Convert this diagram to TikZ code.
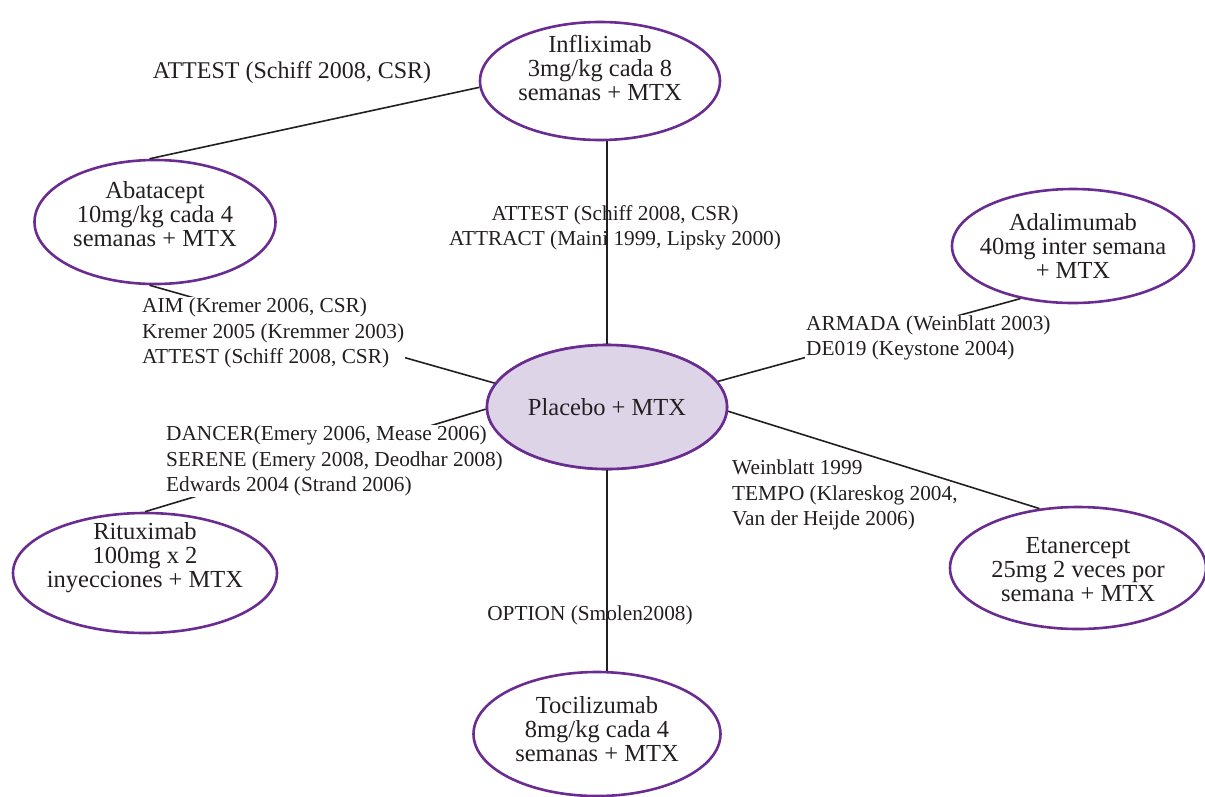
\documentclass[tikz,border=0pt]{standalone}
\usepackage{fontspec}
\setmainfont{Liberation Serif}
\usetikzlibrary{shapes.geometric}
\definecolor{ringc}{HTML}{6A2C91}
\definecolor{fillc}{HTML}{DDD4E8}
\definecolor{txtc}{HTML}{231F20}
\tikzset{
  drug/.style={ellipse, draw=ringc, line width=2.6pt, inner sep=0pt},
  drugtxt/.style={align=center, text=txtc, inner sep=0pt, font=\fontsize{24.5}{24}\selectfont},
  edge/.style={draw=txtc, line width=1.6pt},
  lab/.style={align=left, text=txtc, font=\fontsize{21.3}{25.3}\selectfont, inner sep=1pt},
  labw/.style={lab, fill=white},
  labc/.style={lab, align=center}
}
\begin{document}
\begin{tikzpicture}[x=1pt,y=-1pt]
\useasboundingbox (0,0) rectangle (1205,796);
% nodes
\node[drug, minimum width=240pt, minimum height=118pt] (inf) at (600,81) {};
\node[drug, minimum width=241pt, minimum height=124pt] (aba) at (155,222) {};
\node[drug, minimum width=242pt, minimum height=114pt] (ada) at (1073,246) {};
\node[drug, fill=fillc, minimum width=240pt, minimum height=124pt] (pla) at (607,407) {};
\node[drug, minimum width=264pt, minimum height=120pt] (rit) at (145,573) {};
\node[drug, minimum width=256pt, minimum height=122pt] (eta) at (1078,568) {};
\node[drug, minimum width=247pt, minimum height=124pt] (toc) at (597,734) {};
% diagonal edges (behind labels)
\draw[edge] (aba.95) -- (inf.183);
\draw[edge] (aba.265) -- (pla.168);
\draw[edge] (ada.225) -- (pla.13);
\draw[edge] (rit.90) -- (pla.181);
\draw[edge] (pla.-2) -- (eta.123);
% labels
\node[lab, font=\fontsize{24}{26}\selectfont] (l1) at (292,73) {ATTEST (Schiff 2008, CSR)};
\node[labc] (l2) at (615,228) {ATTEST (Schiff 2008, CSR)\\ATTRACT (Maini 1999, Lipsky 2000)};
\node[labw, anchor=west] (l3) at (141,333) {AIM (Kremer 2006, CSR)\\Kremer 2005 (Kremmer 2003)\\ATTEST (Schiff 2008, CSR)};
\node[labw, anchor=west] (l4) at (805,338) {ARMADA (Weinblatt 2003)\\DE019 (Keystone 2004)};
\node[labw, anchor=west] (l5) at (165,461) {DANCER(Emery 2006, Mease 2006)\\SERENE (Emery 2008, Deodhar 2008)\\Edwards 2004 (Strand 2006)};
\node[lab, anchor=west] (l6) at (731,495) {Weinblatt 1999\\TEMPO (Klareskog 2004,\\Van der Heijde 2006)};
\node[labc] (l7) at (590,615) {OPTION (Smolen2008)};
% placebo redrawn over label boxes
\node[drug, fill=fillc, minimum width=240pt, minimum height=124pt] (pla2) at (pla) {};
% vertical edges (over labels)
\draw[edge] (pla.north) -- (pla.north |- inf.south);
\draw[edge] (pla.south) -- (pla.south |- toc.north);
% node texts
\node[drugtxt] (t-inf) at ([yshift=13pt]inf.center) {Infliximab\\3mg/kg cada 8\\semanas + MTX};
\node[drugtxt] (t-aba) at ([yshift=8pt]aba.center) {Abatacept\\10mg/kg cada 4\\semanas + MTX};
\node[drugtxt] (t-ada) at (ada.center) {Adalimumab\\40mg inter semana\\+ MTX};
\node[drugtxt] (t-pla) at (pla.center) {Placebo + MTX};
\node[drugtxt] (t-rit) at ([yshift=15pt]rit.center) {Rituximab\\100mg x 2\\inyecciones + MTX};
\node[drugtxt] (t-eta) at ([yshift=-2pt]eta.center) {Etanercept\\25mg 2 veces por\\semana + MTX};
\node[drugtxt] (t-toc) at ([yshift=5pt]toc.center) {Tocilizumab\\8mg/kg cada 4\\semanas + MTX};
\end{tikzpicture}
\end{document}
